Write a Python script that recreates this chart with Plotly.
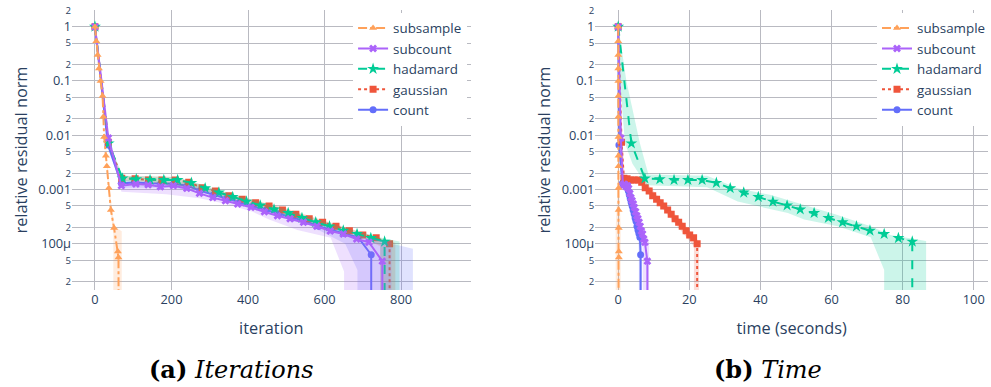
import plotly.graph_objects as go

TINY = 1e-9  # residual after convergence, below the visible axis range

# ---- mean residual curves (shared by both panels) ----
cnt_iter = [0, 34, 69, 103, 138, 172, 206, 241, 275, 310, 344, 378, 413, 447, 481, 516, 550, 585, 619, 653, 688, 722, 722]
cnt_time = [0, 0.2, 1.2, 1.47, 1.74, 2.02, 2.29, 2.56, 2.83, 3.1, 3.38, 3.65, 3.92, 4.19, 4.46, 4.74, 5.01, 5.28, 5.55, 5.82, 6.1, 6.3, 6.3]
cnt_res = [1, 0.0066, 0.0013, 0.00135, 0.0013, 0.00128, 0.00128, 0.00118, 0.00095, 0.0008, 0.00068, 0.00058, 0.0005, 0.00042,
           0.00036, 0.0003, 0.00026, 0.00021, 0.00018, 0.000155, 0.000132, 6.3e-5, TINY]

gau_iter = [0, 35, 70, 105, 140, 175, 210, 245, 280, 315, 350, 385, 420, 455, 490, 525, 560, 595, 630, 665, 700, 735, 770, 770]
gau_time = [0, 0.93, 1.6, 2.5, 3.5, 4.5, 5.6, 6.6, 7.6, 8.7, 9.7, 10.8, 11.8, 12.8, 13.9, 14.9, 16.0, 17.0, 18.0, 19.1, 20.1, 21.2, 22.2, 22.2]
gau_res = [1, 0.0074, 0.00161, 0.00158, 0.0015, 0.0015, 0.0015, 0.00136, 0.00108, 0.00094, 0.00077, 0.00066, 0.00057, 0.0005,
           0.00042, 0.00035, 0.00029, 0.00025, 0.00021, 0.000175, 0.000146, 0.00013, 0.0001, TINY]

had_iter = [0, 36, 72, 108, 144, 180, 216, 252, 288, 324, 360, 396, 432, 468, 505, 541, 577, 613, 649, 685, 721, 757, 757]
had_time = [0, 3.7, 7.5, 11.7, 15.7, 19.6, 23.6, 27.6, 31.5, 35.3, 39.4, 43.5, 47.5, 51.2, 55.1, 59.1, 63.1, 67.0, 70.8, 74.8, 78.8, 82.7, 82.7]
had_res = [1, 0.0071, 0.0016, 0.00155, 0.0015, 0.0015, 0.0015, 0.00133, 0.00106, 0.00088, 0.00073, 0.0006, 0.00051, 0.00043,
           0.00037, 0.0003, 0.00025, 0.00021, 0.000175, 0.000152, 0.000128, 0.00011, TINY]

sc_iter = [0, 35, 69, 107, 139, 171, 205, 240, 273, 308, 341, 373, 408, 443, 477, 510, 545, 580, 615, 649, 684, 716, 751, 751]
sc_time = [0, 0.75, 1.3, 1.63, 1.95, 2.28, 2.6, 2.93, 3.26, 3.58, 3.91, 4.24, 4.56, 4.89, 5.21, 5.54, 5.87, 6.19, 6.52, 6.85, 7.17, 7.5, 8.2, 8.2]
sc_res = [1, 0.0089, 0.00118, 0.00126, 0.00122, 0.00113, 0.00118, 0.00105, 0.00085, 0.00071, 0.00062, 0.00054, 0.00047, 0.00039,
          0.00033, 0.00029, 0.00025, 0.00021, 0.000173, 0.000152, 0.000123, 0.000107, 4.8e-5, TINY]

ss_iter = [0, 3.5, 7, 10.4, 14.7, 19.9, 22, 24, 28.6, 31, 36.4, 41.6, 50, 60, 61.5, 62.5]
ss_time = [0, 0.01, 0.02, 0.03, 0.04, 0.05, 0.06, 0.07, 0.08, 0.09, 0.1, 0.12, 0.14, 0.17, 0.18, 0.18]
ss_res = [1, 0.54, 0.30, 0.17, 0.10, 0.053, 0.022, 0.0093, 0.0042, 0.0027, 0.00107, 0.00042, 0.000195, 7.2e-5, 5.6e-5, TINY]

# ---- spread across trials (closed outlines), iteration panel ----
cnt_band_iter_x = [0, 34, 69, 241, 447, 619, 722, 790, 831, 831, 686, 686, 654, 560, 447, 300, 206, 69, 34, 0]
cnt_band_iter_y = [1.05, 0.0075, 0.0015, 0.00135, 0.00048, 0.0002, 0.00011, 9.5e-5, 8.1e-5, TINY, TINY, 3.3e-5, 0.0001,
                   0.00022, 0.00036, 0.0008, 0.00108, 0.00108, 0.006, 0.95]
gau_band_iter_x = [0, 35, 70, 210, 350, 490, 630, 770, 785, 785, 745, 745, 700, 560, 420, 280, 140, 70, 35, 0]
gau_band_iter_y = [1.05, 0.0082, 0.0018, 0.0017, 0.00085, 0.00047, 0.00023, 0.00011, 0.000105, TINY, TINY, 9e-5, 0.00013,
                   0.00026, 0.00051, 0.00098, 0.00138, 0.00145, 0.0067, 0.95]
had_band_iter_x = [0, 36, 72, 216, 360, 505, 649, 757, 796, 796, 746, 746, 721, 577, 432, 288, 144, 72, 36, 0]
had_band_iter_y = [1.05, 0.0078, 0.0018, 0.0017, 0.00082, 0.00042, 0.0002, 0.000125, 0.00011, TINY, TINY, 9.5e-5, 0.00011,
                   0.00022, 0.00045, 0.00095, 0.0014, 0.0014, 0.0065, 0.95]
sc_band_iter_x = [0, 35, 69, 240, 443, 716, 775, 775, 651, 651, 616, 529, 455, 412, 343, 273, 186, 69, 35, 0]
sc_band_iter_y = [1.05, 0.0095, 0.00135, 0.00122, 0.00045, 0.000125, 0.00011, TINY, TINY, 3.1e-5, 0.00013, 0.00018,
                  0.00028, 0.00039, 0.00054, 0.00069, 0.00082, 0.00091, 0.0075, 0.95]
ss_band_iter_x = [0, 22, 37, 50, 60, 70, 70, 48, 48, 35, 20, 0]
ss_band_iter_y = [1.05, 0.025, 0.0012, 0.00022, 0.00019, 0.00017, TINY, TINY, 0.00015, 0.0009, 0.05, 0.95]

# ---- spread across trials, time panel ----
cnt_band_time_x = [0, 0.4, 1.4, 3.0, 4.8, 6.4, 6.7, 6.7, 5.8, 5.8, 5.7, 4.3, 2.5, 1.0, 0.1, 0]
cnt_band_time_y = [1.05, 0.007, 0.0015, 0.0013, 0.0004, 0.00013, 8e-5, TINY, TINY, 6e-5, 0.00011, 0.00035, 0.001, 0.0011, 0.006, 0.95]
gau_band_time_x = [0, 1.2, 1.8, 7.0, 12, 17.5, 22.7, 22.7, 21.3, 21.3, 17, 11, 7.5, 5.5, 1.3, 0.7, 0]
gau_band_time_y = [1.05, 0.008, 0.0018, 0.0016, 0.00065, 0.00028, 0.00011, TINY, TINY, 9e-5, 0.0002, 0.00058, 0.001,
                   0.0013, 0.0014, 0.006, 0.95]
had_band_time_x = [0, 2.3, 6.1, 8.5, 25, 33.6, 43, 52.3, 61.7, 71, 76.6, 86.6, 86.6, 74.8, 74.8, 71, 61.7, 52.3, 47.7,
                   33.6, 25, 8, 4, 1.9, 0.5, 0]
had_band_time_y = [1.05, 0.1, 0.0071, 0.0019, 0.0018, 0.00106, 0.00079, 0.00052, 0.00034, 0.00021, 0.000146, 0.000113,
                   TINY, TINY, 3.3e-5, 0.000132, 0.00021, 0.00028, 0.00037, 0.0006, 0.0011, 0.0012, 0.003, 0.0071, 0.1, 0.95]
sc_band_time_x = [0, 0.9, 1.6, 3.2, 5.0, 7.8, 8.7, 8.7, 6.9, 6.9, 6.8, 4.6, 2.6, 1.1, 0.6, 0]
sc_band_time_y = [1.05, 0.009, 0.0014, 0.0012, 0.00042, 0.00012, 0.00011, TINY, TINY, 5e-5, 0.0001, 0.00033, 0.00095,
                  0.001, 0.008, 0.95]
ss_band_time_x = [0, 0.3, 0.7, 0.7, -0.7, -0.7, -0.2, 0]
ss_band_time_y = [1.05, 0.001, 0.0002, TINY, TINY, 0.0002, 0.001, 0.95]

series = [
    # name, colour, fill, dash, symbol, size, iter, time, res, band(iter), band(time)
    ("count", "#636EFA", "rgba(99,110,250,0.2)", "solid", "circle", 7,
     cnt_iter, cnt_time, cnt_res, (cnt_band_iter_x, cnt_band_iter_y), (cnt_band_time_x, cnt_band_time_y)),
    ("gaussian", "#EF553B", "rgba(239,85,59,0.2)", "dot", "square", 7,
     gau_iter, gau_time, gau_res, (gau_band_iter_x, gau_band_iter_y), (gau_band_time_x, gau_band_time_y)),
    ("hadamard", "#00CC96", "rgba(0,204,150,0.2)", "dash", "star", 9,
     had_iter, had_time, had_res, (had_band_iter_x, had_band_iter_y), (had_band_time_x, had_band_time_y)),
    ("subcount", "#AB63FA", "rgba(171,99,250,0.2)", "solid", "x", 7,
     sc_iter, sc_time, sc_res, (sc_band_iter_x, sc_band_iter_y), (sc_band_time_x, sc_band_time_y)),
    ("subsample", "#FFA15A", "rgba(255,161,90,0.2)", "dashdot", "triangle-up", 7,
     ss_iter, ss_time, ss_res, (ss_band_iter_x, ss_band_iter_y), (ss_band_time_x, ss_band_time_y)),
]

fig = go.Figure()
for name, col, fillcol, dash, sym, msize, it, tm, res, band_it, band_tm in series:
    for xs, band, xa, ya, leg in ((it, band_it, "x", "y", "legend"), (tm, band_tm, "x2", "y2", "legend2")):
        fig.add_trace(go.Scatter(
            x=band[0], y=band[1], xaxis=xa, yaxis=ya, mode="lines", fill="toself",
            fillcolor=fillcol, line=dict(width=0), hoverinfo="skip", showlegend=False))
        fig.add_trace(go.Scatter(
            x=xs, y=res, xaxis=xa, yaxis=ya, name=name, legend=leg, mode="lines+markers",
            line=dict(color=col, width=2, dash=dash),
            marker=dict(symbol=sym, size=msize, color=col)))

GRID = "#b9bac1"
TICKFONT = dict(size=12.8, color="#2a3f5f")
TITLEFONT = dict(size=16.3, color="#2a3f5f")
yax = dict(type="log", range=[-4.85, 0.307], dtick="D2", gridcolor=GRID, zeroline=False,
           tickfont=TICKFONT, title=dict(text="relative residual norm", font=TITLEFONT, standoff=6))
legend_style = dict(bgcolor="white", font=dict(size=13.4, color="#2a3f5f"), traceorder="reversed",
                    yanchor="top", xanchor="left", y=0.99, tracegroupgap=0)
caption_font = dict(family="DejaVu Serif", size=24, color="black")

fig.update_layout(
    template="plotly_white",
    width=991, height=387,
    margin=dict(l=72, r=0, t=10, b=97),
    font=dict(family="Open Sans, verdana, arial, sans-serif", color="#2a3f5f"),
    xaxis=dict(domain=[0, 400 / 919], range=[-60, 982], dtick=200, gridcolor=GRID, zeroline=False,
               tickfont=TICKFONT, title=dict(text="iteration", font=TITLEFONT), anchor="y"),
    yaxis=dict(anchor="x", **yax),
    xaxis2=dict(domain=[525 / 919, 1], range=[-6.45, 104.0], dtick=20, gridcolor=GRID, zeroline=False,
                tickfont=TICKFONT, title=dict(text="time (seconds)", font=TITLEFONT), anchor="y2"),
    yaxis2=dict(anchor="x2", **yax),
    legend=dict(x=(354 - 72) / 919, **legend_style),
    legend2=dict(x=(880 - 72) / 919, **legend_style),
    annotations=[
        dict(text="<b>(a)</b> <i>Iterations</i>", x=(232.5 - 72) / 919, y=-80 / 280, xref="paper", yref="paper",
             xanchor="center", yanchor="middle", showarrow=False, font=caption_font),
        dict(text="<b>(b)</b> <i>Time</i>", x=(770 - 72) / 919, y=-80 / 280, xref="paper", yref="paper",
             xanchor="center", yanchor="middle", showarrow=False, font=caption_font),
    ],
)

fig.write_html("out.html")
